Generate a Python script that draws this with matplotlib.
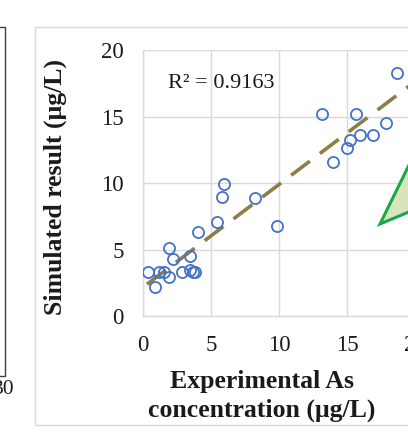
import matplotlib.pyplot as plt
from matplotlib.patches import Rectangle, Polygon
from matplotlib.lines import Line2D
import numpy as np

# data
exp_conc = [0.34, 0.86, 1.15, 1.51, 1.88, 1.93, 2.17, 2.86, 3.42, 3.42, 3.71, 3.86,
            4.08, 5.47, 5.82, 5.94, 8.23, 9.87, 13.17, 13.97, 14.98, 15.2, 15.69,
            15.98, 16.9, 17.9, 18.7]
sim_result = [3.33, 2.18, 3.33, 3.33, 5.08, 2.9, 4.25, 3.33, 4.5, 3.45, 3.33, 3.33,
              6.3, 7.08, 8.95, 9.9, 8.9, 6.78, 15.2, 11.55, 12.65, 13.25, 15.2,
              13.6, 13.6, 14.5, 18.25]
trend_slope = 0.773
trend_intercept = 2.16
r2_text = "R² = 0.9163"
ticks = [0, 5, 10, 15, 20]

W, H = 408, 436
plt.rcParams['font.family'] = ['Liberation Serif', 'DejaVu Serif']

fig = plt.figure(figsize=(W / 100, H / 100), dpi=100)

def fx(px):
    return px / W

def fy(py):
    return (H - py) / H

# panel border (light gray chart area)
fig.add_artist(Rectangle((fx(35), fy(425)), fx(420) - fx(35), fy(27) - fy(425),
                         transform=fig.transFigure, fill=False,
                         edgecolor='#d9d9d9', linewidth=1.0))

# remnant of the neighbouring panel on the left
fig.add_artist(Line2D([fx(-5), fx(5), fx(5), fx(-5)], [fy(27), fy(27), fy(376), fy(376)],
                      transform=fig.transFigure, color='#404040', linewidth=1.0))
fig.text(fx(15), fy(389), "30", ha='right', va='center', fontsize=15.5, color='#1a1a1a')

# main axes
ax = fig.add_axes([fx(143), fy(316), fx(415) - fx(143), fy(50) - fy(316)])
ax.set_xlim(0, 20)
ax.set_ylim(0, 20)
ax.set_xticks(ticks)
ax.set_yticks(ticks)
ax.grid(True, color='#d9d9d9', linewidth=1.0)
ax.set_axisbelow(True)
for s in ['top', 'right']:
    ax.spines[s].set_visible(False)
for s in ['left', 'bottom']:
    ax.spines[s].set_color('#d9d9d9')
    ax.spines[s].set_linewidth(1.0)
ax.tick_params(length=0, labelsize=16.5, colors='#1a1a1a', pad=14)

ax.plot(exp_conc, sim_result, 'o', markerfacecolor='none', markeredgecolor='#4472C4',
        markersize=8, markeredgewidth=1.3, zorder=3)

tx = np.array([0.3, 20.5])
ax.plot(tx, trend_slope * tx + trend_intercept, color='#8C7F45', linewidth=2.6,
        dashes=(6.5, 3.5), zorder=2, clip_on=False)

fig.text(fx(168), fy(83), r2_text, ha='left', va='center', fontsize=16, color='#1a1a1a')

# green triangle annotation, cut at the right edge
fig.add_artist(Polygon([(fx(380), fy(224)), (fx(440), fy(102)), (fx(440), fy(199))],
                       closed=True, transform=fig.transFigure,
                       facecolor='#d8e4bc', edgecolor='#1aa64a', linewidth=2.2))

fig.text(fx(55), fy(187), "Simulated result (μg/L)", rotation=90, ha='center', va='center',
         fontsize=18.5, fontweight='bold', color='#1a1a1a')
fig.text(fx(262), fy(381), "Experimental As", ha='center', va='center',
         fontsize=18.5, fontweight='bold', color='#1a1a1a')
fig.text(fx(262), fy(410), "concentration (μg/L)", ha='center', va='center',
         fontsize=18.5, fontweight='bold', color='#1a1a1a')

fig.savefig('out.png', dpi=100)
